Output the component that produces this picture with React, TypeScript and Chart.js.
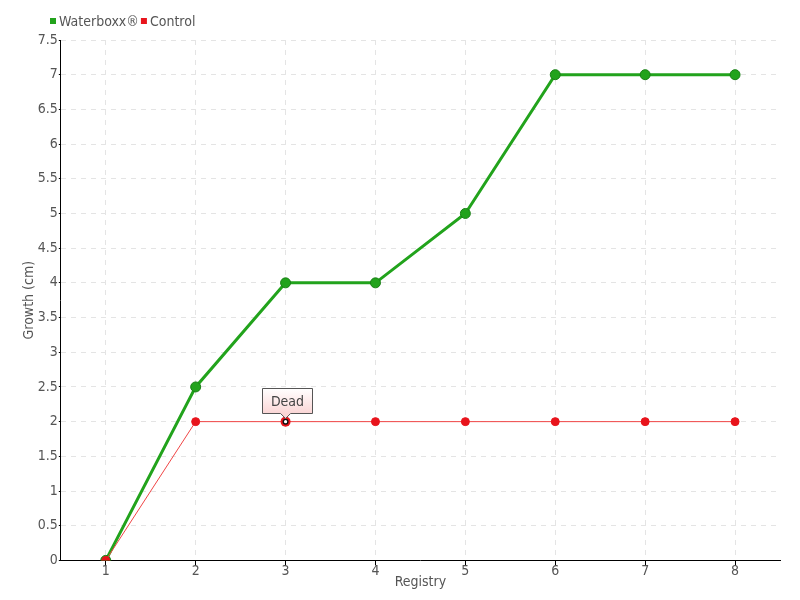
import React, { useEffect, useRef } from "react";
import { Chart, registerables } from "chart.js";

Chart.register(...registerables);

const categories = ["1", "2", "3", "4", "5", "6", "7", "8"];
const waterboxxValues = [0, 2.5, 4, 4, 5, 7, 7, 7];
const controlValues = [0, 2, 2, 2, 2, 2, 2, 2];
const annotationIndex = 2;
const annotationText = "Dead";

const FONT = "'DejaVu Sans Condensed', sans-serif";
const FS = 14;

const legendPlugin = {
  id: "customLegend",
  afterDraw(chart: any) {
    const ctx = chart.ctx;
    ctx.save();
    ctx.font = FS + "px " + FONT;
    ctx.textBaseline = "middle";
    ctx.textAlign = "left";
    let x = 50;
    const y = 21;
    chart.data.datasets.forEach((d: any) => {
      ctx.fillStyle = d.pointBackgroundColor;
      ctx.fillRect(x, y - 3, 6, 6);
      ctx.fillStyle = "#555555";
      ctx.fillText(d.label, x + 9, y + 1);
      x += 9 + ctx.measureText(d.label).width + 2;
    });
    ctx.restore();
  },
};

const deadPlugin = {
  id: "deadLabel",
  afterDatasetsDraw(chart: any) {
    const meta = chart.getDatasetMeta(1);
    const pt = meta.data[annotationIndex];
    if (!pt) return;
    const ctx = chart.ctx;
    const x = pt.x, y = pt.y;
    ctx.save();
    ctx.beginPath();
    ctx.arc(x, y, 5, 0, Math.PI * 2);
    ctx.fillStyle = "#e8141c";
    ctx.fill();
    ctx.beginPath();
    ctx.arc(x, y, 3, 0, Math.PI * 2);
    ctx.fillStyle = "#111111";
    ctx.fill();
    ctx.beginPath();
    ctx.arc(x, y, 1.6, 0, Math.PI * 2);
    ctx.fillStyle = "#ffffff";
    ctx.fill();

    const w = 50, h = 25;
    const bx = Math.round(x - 24) + 0.5, by = Math.round(y - 34) + 0.5;
    const grad = ctx.createLinearGradient(0, by, 0, by + h);
    grad.addColorStop(0, "#ffffff");
    grad.addColorStop(1, "#fbd6d6");
    ctx.beginPath();
    ctx.moveTo(bx, by);
    ctx.lineTo(bx + w, by);
    ctx.lineTo(bx + w, by + h);
    ctx.lineTo(x + 5, by + h);
    ctx.lineTo(x, by + h + 5);
    ctx.lineTo(x - 5, by + h);
    ctx.lineTo(bx, by + h);
    ctx.closePath();
    ctx.fillStyle = grad;
    ctx.fill();
    ctx.lineWidth = 1;
    ctx.strokeStyle = "#555555";
    ctx.stroke();
    ctx.fillStyle = "#444444";
    ctx.font = FS + "px " + FONT;
    ctx.textAlign = "center";
    ctx.textBaseline = "middle";
    ctx.fillText(annotationText, bx + w / 2, by + h / 2 + 1);
    ctx.restore();
  },
};

export default function App() {
  const ref = useRef<HTMLCanvasElement | null>(null);
  useEffect(() => {
    document.body.style.margin = "0";
    const chart = new Chart(ref.current as HTMLCanvasElement, {
      type: "line",
      data: {
        labels: categories,
        datasets: [
          {
            label: "Waterboxx®",
            data: waterboxxValues,
            borderColor: "#22a31c",
            backgroundColor: "#22a31c",
            pointBackgroundColor: "#22a31c",
            pointBorderColor: "#1a8016",
            pointBorderWidth: 1,
            borderWidth: 3,
            pointRadius: 5,
            tension: 0,
            order: 1,
          },
          {
            label: "Control",
            data: controlValues,
            borderColor: "#f04545",
            backgroundColor: "#e8141c",
            pointBackgroundColor: "#e8141c",
            pointBorderColor: "#e8141c",
            borderWidth: 1,
            pointRadius: 4,
            tension: 0,
            order: 0,
          },
        ],
      },
      options: {
        animation: false,
        responsive: false,
        layout: { padding: { left: 21, right: 20, top: 40, bottom: 9 } },
        plugins: {
          tooltip: { enabled: false },
          legend: { display: false },
        },
        scales: {
          x: {
            offset: true,
            grid: {
              offset: false,
              color: "#e4e4e4",
              tickColor: "#000000",
              tickLength: 5,
              tickBorderDash: [],
            } as any,
            border: { color: "#000000", width: 1, dash: [5, 5] } as any,
            ticks: { color: "#555555", font: { family: FONT, size: FS }, padding: -2 },
            title: {
              display: true,
              text: "Registry",
              color: "#555555",
              font: { family: FONT, size: FS },
              padding: { top: -4, bottom: 0 },
            },
          },
          y: {
            min: 0,
            max: 7.5,
            grid: {
              color: "#e4e4e4",
              tickColor: "#000000",
              tickLength: 2,
              tickBorderDash: [],
            } as any,
            border: { color: "#000000", width: 1, dash: [5, 5] } as any,
            ticks: {
              stepSize: 0.5,
              color: "#555555",
              font: { family: FONT, size: FS },
              padding: 1,
              callback: (v: any) => String(+v),
            },
            title: {
              display: true,
              text: "Growth (cm)",
              color: "#555555",
              font: { family: FONT, size: FS },
              padding: { top: 0, bottom: -1 },
            },
          },
        },
      },
      plugins: [deadPlugin, legendPlugin],
    } as any);
    return () => chart.destroy();
  }, []);
  return (
    <div style={{ width: 800, height: 600 }}>
      <canvas ref={ref} width={800} height={600} />
    </div>
  );
}
